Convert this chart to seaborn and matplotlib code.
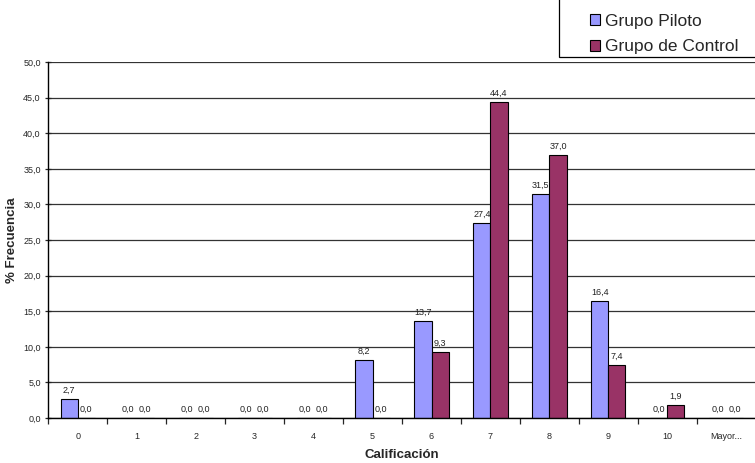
import pandas as pd
import numpy as np
import matplotlib
matplotlib.use("Agg")
import matplotlib.pyplot as plt
import seaborn as sns
from matplotlib.ticker import FixedLocator
from matplotlib.patches import Patch, Rectangle

# datos
categorias = ['0', '1', '2', '3', '4', '5', '6', '7', '8', '9', '10', 'Mayor...']
piloto = [2.7, 0.0, 0.0, 0.0, 0.0, 8.2, 13.7, 27.4, 31.5, 16.4, 0.0, 0.0]
control = [0.0, 0.0, 0.0, 0.0, 0.0, 0.0, 9.3, 44.4, 37.0, 7.4, 1.9, 0.0]
grupos = ['Grupo Piloto', 'Grupo de Control']
colores = ['#9999FF', '#993366']

df = pd.DataFrame({
    'Calificación': categorias * 2,
    'Frecuencia': piloto + control,
    'Grupo': [grupos[0]] * len(categorias) + [grupos[1]] * len(categorias),
})

sns.set_style('white')
plt.rcParams['font.family'] = ['Liberation Sans', 'DejaVu Sans']

fig = plt.figure(figsize=(7.55, 4.63), dpi=100)
ax = fig.add_axes([0.064, 0.097, 0.937, 0.769])

sns.barplot(data=df, x='Calificación', y='Frecuencia', hue='Grupo',
            palette=colores, saturation=1, width=0.58, edgecolor='black',
            linewidth=0.8, order=categorias, hue_order=grupos, ax=ax, legend=False)

for cont in ax.containers:
    etiquetas = [f'{v:.1f}'.replace('.', ',') for v in cont.datavalues]
    ax.bar_label(cont, labels=etiquetas, padding=3, fontsize=6.5, color='#222222')

ax.set_ylim(0, 50)
ax.set_xlim(-0.5, len(categorias) - 0.5)
yt = np.arange(0, 51, 5)
ax.set_yticks(yt)
ax.set_yticklabels([f'{v:.1f}'.replace('.', ',') for v in yt])
ax.yaxis.grid(True, color='#333333', linewidth=0.9)
ax.set_axisbelow(True)

ax.xaxis.set_minor_locator(FixedLocator(np.arange(-0.5, len(categorias), 1)))
ax.tick_params(axis='x', which='major', length=0, labelsize=6.5, pad=10)
ax.tick_params(axis='x', which='minor', length=4, width=0.9, direction='out', bottom=True)
ax.tick_params(axis='y', length=4, width=0.9, direction='inout', labelsize=6.5, left=True)

for lado in ['top', 'right']:
    ax.spines[lado].set_visible(False)
for lado in ['left', 'bottom']:
    ax.spines[lado].set_color('black')
    ax.spines[lado].set_linewidth(1.0)

ax.set_xlabel('Calificación', fontsize=9.5, fontweight='bold', labelpad=6)
ax.set_ylabel('% Frecuencia', fontsize=9.5, fontweight='bold', labelpad=4)

# leyenda con marco propio, arriba a la derecha
W, H = 755, 463
fig.patches.append(Rectangle((559 / W, 1 - 57 / H), 0.3, 0.2, transform=fig.transFigure,
                             facecolor='white', edgecolor='black', linewidth=0.9, zorder=0))
handles = [Patch(facecolor=c, edgecolor='black', linewidth=0.8) for c in colores]
fig.legend(handles, grupos, loc='center left', bbox_to_anchor=(590 / W, 1 - 34 / H),
           fontsize=12.5, frameon=False, handlelength=0.57, handleheight=0.57,
           handletextpad=0.3, borderpad=0, labelspacing=0.62, borderaxespad=0)

fig.savefig('out.png', dpi=100)
